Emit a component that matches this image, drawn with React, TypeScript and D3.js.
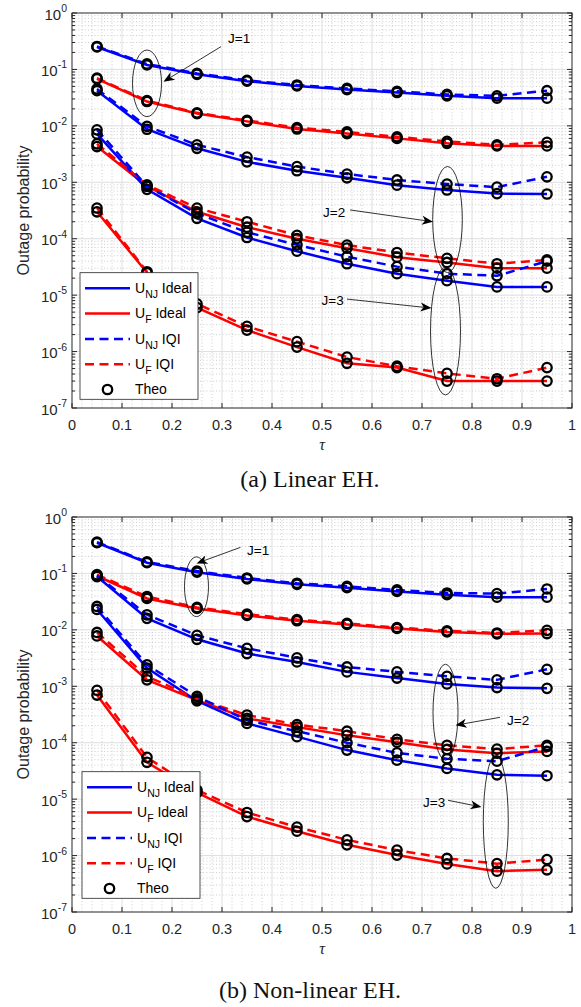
import React from "react";
import * as d3 from "d3";

// Time-switching ratio samples
const tau = [0.05, 0.15, 0.25, 0.35, 0.45, 0.55, 0.65, 0.75, 0.85, 0.95];

// (a) Linear EH
const linNJIdealJ1 = [0.25, 0.12, 0.082, 0.062, 0.051, 0.044, 0.039, 0.034, 0.031, 0.031];
const linNJIqiJ1 = [0.255, 0.125, 0.085, 0.064, 0.053, 0.046, 0.041, 0.036, 0.034, 0.042];
const linFIdealJ1 = [0.068, 0.027, 0.0165, 0.012, 0.0088, 0.0073, 0.006, 0.0049, 0.0044, 0.0044];
const linFIqiJ1 = [0.07, 0.028, 0.017, 0.0125, 0.0093, 0.0078, 0.0064, 0.0053, 0.0046, 0.0051];
const linNJIdealJ2 = [0.042, 0.0087, 0.004, 0.0023, 0.0016, 0.0012, 0.00089, 0.00073, 0.00063, 0.00062];
const linNJIqiJ2 = [0.045, 0.0098, 0.0046, 0.0028, 0.0019, 0.0014, 0.0011, 0.00093, 0.00082, 0.00125];
const linFIdealJ2 = [0.0043, 0.00085, 0.0003, 0.00016, 0.0001, 6.8e-5, 4.7e-5, 3.8e-5, 3.0e-5, 3.0e-5];
const linFIqiJ2 = [0.0048, 0.0009, 0.00035, 0.0002, 0.000115, 7.7e-5, 5.7e-5, 4.5e-5, 3.6e-5, 4.2e-5];
const linNJIdealJ3 = [0.0072, 0.00075, 0.00023, 0.000105, 6.0e-5, 3.6e-5, 2.4e-5, 1.8e-5, 1.4e-5, 1.4e-5];
const linNJIqiJ3 = [0.0085, 0.00085, 0.00028, 0.00013, 7.8e-5, 4.8e-5, 3.2e-5, 2.4e-5, 2.2e-5, 4.0e-5];
const linFIdealJ3 = [0.0003, 2.5e-5, 6.0e-6, 2.4e-6, 1.2e-6, 6.2e-7, 5.2e-7, 3.0e-7, 3.0e-7, 3.0e-7];
const linFIqiJ3 = [0.00035, 2.6e-5, 7.0e-6, 2.8e-6, 1.5e-6, 8.0e-7, 5.5e-7, 4.1e-7, 3.3e-7, 5.2e-7];

// (b) Non-linear EH
const nlNJIdealJ1 = [0.35, 0.155, 0.105, 0.08, 0.064, 0.056, 0.048, 0.042, 0.038, 0.038];
const nlNJIqiJ1 = [0.36, 0.16, 0.11, 0.083, 0.067, 0.059, 0.051, 0.045, 0.044, 0.053];
const nlFIdealJ1 = [0.09, 0.036, 0.024, 0.018, 0.0145, 0.0125, 0.0106, 0.0092, 0.0085, 0.0086];
const nlFIqiJ1 = [0.095, 0.039, 0.025, 0.019, 0.0152, 0.013, 0.011, 0.0096, 0.0088, 0.0098];
const nlNJIdealJ2 = [0.088, 0.016, 0.0068, 0.0038, 0.0027, 0.0018, 0.0014, 0.0011, 0.00095, 0.00092];
const nlNJIqiJ2 = [0.092, 0.0185, 0.008, 0.0047, 0.0032, 0.0022, 0.0018, 0.0015, 0.0013, 0.002];
const nlFIdealJ2 = [0.0078, 0.0013, 0.00057, 0.00027, 0.00019, 0.000135, 0.000102, 7.6e-5, 6.5e-5, 7.0e-5];
const nlFIqiJ2 = [0.009, 0.0015, 0.0006, 0.00031, 0.00021, 0.00016, 0.000115, 9.0e-5, 7.7e-5, 9.0e-5];
const nlNJIdealJ3 = [0.023, 0.0021, 0.00055, 0.00022, 0.000128, 7.4e-5, 4.9e-5, 3.5e-5, 2.7e-5, 2.6e-5];
const nlNJIqiJ3 = [0.026, 0.0024, 0.00066, 0.00025, 0.00016, 0.0001, 6.6e-5, 5.2e-5, 4.7e-5, 8.5e-5];
const nlFIdealJ3 = [0.0007, 4.5e-5, 1.3e-5, 4.9e-6, 2.7e-6, 1.55e-6, 1.02e-6, 7.1e-7, 5.3e-7, 5.6e-7];
const nlFIqiJ3 = [0.00085, 5.5e-5, 1.45e-5, 5.8e-6, 3.2e-6, 1.9e-6, 1.25e-6, 8.9e-7, 7.2e-7, 8.5e-7];

const xTicks = [0, 0.1, 0.2, 0.3, 0.4, 0.5, 0.6, 0.7, 0.8, 0.9, 1];
const xTickLabels = ["0", "0.1", "0.2", "0.3", "0.4", "0.5", "0.6", "0.7", "0.8", "0.9", "1"];
const yExponents = [0, -1, -2, -3, -4, -5, -6, -7];

const BLUE = "#0000ff";
const RED = "#ff0000";
const AXIS = "#262626";
const SANS = "'Liberation Sans', Arial, Helvetica, sans-serif";
const SERIF = "'Liberation Serif', 'Times New Roman', serif";

type Curve = { values: number[]; color: string; dashed: boolean };
type Note = {
  label: string;
  text: [number, number];
  from: [number, number];
  to: [number, number];
  ellipse: { c: [number, number]; rx: number; ry: number };
};

const curvesA: Curve[] = [
  { values: linNJIdealJ1, color: BLUE, dashed: false },
  { values: linFIdealJ1, color: RED, dashed: false },
  { values: linNJIdealJ2, color: BLUE, dashed: false },
  { values: linFIdealJ2, color: RED, dashed: false },
  { values: linNJIdealJ3, color: BLUE, dashed: false },
  { values: linFIdealJ3, color: RED, dashed: false },
  { values: linNJIqiJ1, color: BLUE, dashed: true },
  { values: linFIqiJ1, color: RED, dashed: true },
  { values: linNJIqiJ2, color: BLUE, dashed: true },
  { values: linFIqiJ2, color: RED, dashed: true },
  { values: linNJIqiJ3, color: BLUE, dashed: true },
  { values: linFIqiJ3, color: RED, dashed: true },
];

const curvesB: Curve[] = [
  { values: nlNJIdealJ1, color: BLUE, dashed: false },
  { values: nlFIdealJ1, color: RED, dashed: false },
  { values: nlNJIdealJ2, color: BLUE, dashed: false },
  { values: nlFIdealJ2, color: RED, dashed: false },
  { values: nlNJIdealJ3, color: BLUE, dashed: false },
  { values: nlFIdealJ3, color: RED, dashed: false },
  { values: nlNJIqiJ1, color: BLUE, dashed: true },
  { values: nlFIqiJ1, color: RED, dashed: true },
  { values: nlNJIqiJ2, color: BLUE, dashed: true },
  { values: nlFIqiJ2, color: RED, dashed: true },
  { values: nlNJIqiJ3, color: BLUE, dashed: true },
  { values: nlFIqiJ3, color: RED, dashed: true },
];

// Annotation positions in data units: [tau, log10(probability)]
const notesA: Note[] = [
  { label: "J=1", text: [0.312, -0.53], from: [0.298, -0.596], to: [0.183, -1.217], ellipse: { c: [0.15, -1.246], rx: 0.029, ry: 0.59 } },
  { label: "J=2", text: [0.502, -3.62], from: [0.556, -3.49], to: [0.722, -3.70], ellipse: { c: [0.751, -3.66], rx: 0.0296, ry: 0.94 } },
  { label: "J=3", text: [0.499, -5.17], from: [0.55, -5.07], to: [0.719, -5.23], ellipse: { c: [0.747, -5.635], rx: 0.03, ry: 1.134 } },
];

const notesB: Note[] = [
  { label: "J=1", text: [0.35, -0.673], from: [0.337, -0.538], to: [0.249, -0.822], ellipse: { c: [0.249, -1.236], rx: 0.024, ry: 0.53 } },
  { label: "J=2", text: [0.87, -3.69], from: [0.856, -3.55], to: [0.767, -3.69], ellipse: { c: [0.747, -3.46], rx: 0.025, ry: 0.85 } },
  { label: "J=3", text: [0.702, -5.14], from: [0.752, -5.02], to: [0.819, -5.14], ellipse: { c: [0.8476, -5.4], rx: 0.025, ry: 1.18 } },
];

const legendItems = [
  { sub: "NJ", tail: " Ideal", color: BLUE, dashed: false, marker: false },
  { sub: "F", tail: " Ideal", color: RED, dashed: false, marker: false },
  { sub: "NJ", tail: " IQI", color: BLUE, dashed: true, marker: false },
  { sub: "F", tail: " IQI", color: RED, dashed: true, marker: false },
  { sub: "", tail: "Theo", color: "#000", dashed: false, marker: true },
];

const X0 = 72;
const X1 = 572;
const PH = 395;
const MARK_R = 4.7;
const MARK_W = 2.3;

function Panel(props: {
  top: number;
  curves: Curve[];
  notes: Note[];
  legend: [number, number];
  caption: string;
  captionY: number;
  id: string;
}) {
  const { top, curves, notes, legend, caption, captionY, id } = props;
  const bottom = top + PH;
  const x = d3.scaleLinear().domain([0, 1]).range([X0, X1]);
  const y = d3.scaleLog().domain([1e-7, 1]).range([bottom, top]);
  const ly = (e: number) => y(Math.pow(10, e));

  const minorX = d3.range(1, 50).map((i) => i * 0.02).filter((v) => Math.abs(v * 10 - Math.round(v * 10)) > 1e-6);
  const minorY: number[] = [];
  for (let e = -7; e < 0; e++) for (let k = 2; k <= 9; k++) minorY.push(k * Math.pow(10, e));

  const line = d3
    .line<number>()
    .x((_, i) => x(tau[i]))
    .y((v) => y(v));

  const arrowHead = (from: [number, number], to: [number, number]) => {
    const fx = x(from[0]), fy = ly(from[1]);
    const tx = x(to[0]), ty = ly(to[1]);
    const ang = Math.atan2(ty - fy, tx - fx);
    const L = 11, W = 4.5, N = 3;
    const ux = Math.cos(ang), uy = Math.sin(ang);
    const px = -uy, py = ux;
    const bx = tx - ux * L, by = ty - uy * L;
    const nx = tx - ux * (L - N), ny = ty - uy * (L - N);
    return {
      line: [fx, fy, nx, ny],
      pts: `${tx},${ty} ${bx + px * W},${by + py * W} ${nx},${ny} ${bx - px * W},${by - py * W}`,
    };
  };

  const [lx, lyTop] = legend;
  const rowGap = 25.3;

  return (
    <g>
      <defs>
        <clipPath id={`clip-${id}`}>
          <rect x={X0 - 6} y={top} width={X1 - X0 + 12} height={PH} />
        </clipPath>
      </defs>
      <rect x={X0} y={top} width={X1 - X0} height={PH} fill="#fff" />
      {/* minor grid */}
      <g stroke="#b8b8b8" strokeWidth={0.7} strokeDasharray="1,2.2">
        {minorX.map((v) => (
          <line key={`mx${v}`} x1={x(v)} x2={x(v)} y1={top} y2={bottom} />
        ))}
        {minorY.map((v) => (
          <line key={`my${v}`} x1={X0} x2={X1} y1={y(v)} y2={y(v)} />
        ))}
      </g>
      {/* major grid */}
      <g stroke="#dedede" strokeWidth={1}>
        {xTicks.slice(1, -1).map((v) => (
          <line key={`gx${v}`} x1={x(v)} x2={x(v)} y1={top} y2={bottom} />
        ))}
        {yExponents.slice(1, -1).map((e) => (
          <line key={`gy${e}`} x1={X0} x2={X1} y1={ly(e)} y2={ly(e)} />
        ))}
      </g>
      {/* curves */}
      <g clipPath={`url(#clip-${id})`} fill="none">
        {curves.map((c, i) => (
          <path
            key={`c${i}`}
            d={line(c.values) || ""}
            stroke={c.color}
            strokeWidth={2.5}
            strokeDasharray={c.dashed ? "9,5.5" : undefined}
          />
        ))}
        {curves.map((c, i) =>
          c.values.map((v, j) => (
            <circle key={`m${i}-${j}`} cx={x(tau[j])} cy={y(v)} r={MARK_R} stroke="#000" strokeWidth={MARK_W} fill="none" />
          ))
        )}
      </g>
      {/* axes box and ticks */}
      <rect x={X0} y={top} width={X1 - X0} height={PH} fill="none" stroke={AXIS} strokeWidth={1} />
      <g stroke={AXIS} strokeWidth={1}>
        {xTicks.map((v) => (
          <g key={`tx${v}`}>
            <line x1={x(v)} x2={x(v)} y1={bottom} y2={bottom - 5} />
            <line x1={x(v)} x2={x(v)} y1={top} y2={top + 5} />
          </g>
        ))}
        {yExponents.map((e) => (
          <g key={`ty${e}`}>
            <line x1={X0} x2={X0 + 5} y1={ly(e)} y2={ly(e)} />
            <line x1={X1} x2={X1 - 5} y1={ly(e)} y2={ly(e)} />
          </g>
        ))}
        {minorY.map((v) => (
          <g key={`tm${v}`}>
            <line x1={X0} x2={X0 + 3} y1={y(v)} y2={y(v)} />
            <line x1={X1} x2={X1 - 3} y1={y(v)} y2={y(v)} />
          </g>
        ))}
      </g>
      {/* tick labels */}
      <g fontFamily={SANS} fill={AXIS} fontSize={14.5}>
        {xTicks.map((v, i) => (
          <text key={`lx${v}`} x={x(v)} y={bottom + 22} textAnchor="middle">
            {xTickLabels[i]}
          </text>
        ))}
        {yExponents.map((e) => (
          <text key={`ly${e}`} x={67} y={ly(e) + 6.5} textAnchor="end" fontSize={15}>
            10
            <tspan fontSize={10.5} dy={-7.5}>
              {e === 0 ? "0" : `-${-e}`}
            </tspan>
          </text>
        ))}
      </g>
      {/* axis labels */}
      <text
        transform={`translate(29,${(top + bottom) / 2}) rotate(-90)`}
        textAnchor="middle"
        fontFamily={SANS}
        fontSize={16}
        fill={AXIS}
      >
        Outage probability
      </text>
      <text x={(X0 + X1) / 2} y={bottom + 42} textAnchor="middle" fontFamily={SERIF} fontStyle="italic" fontSize={16} fill={AXIS}>
        τ
      </text>
      {/* annotations */}
      <g fontFamily={SANS} fontSize={13.5} fill="#000">
        {notes.map((n) => {
          const a = arrowHead(n.from, n.to);
          return (
            <g key={n.label}>
              <ellipse
                cx={x(n.ellipse.c[0])}
                cy={ly(n.ellipse.c[1])}
                rx={x(n.ellipse.rx) - x(0)}
                ry={ly(-n.ellipse.ry) - ly(0)}
                fill="none"
                stroke="#000"
                strokeWidth={0.8}
              />
              <line x1={a.line[0]} y1={a.line[1]} x2={a.line[2]} y2={a.line[3]} stroke="#000" strokeWidth={0.8} />
              <polygon points={a.pts} fill="#000" />
              <text x={x(n.text[0])} y={ly(n.text[1])}>
                {n.label}
              </text>
            </g>
          );
        })}
      </g>
      {/* legend */}
      <g>
        <rect x={lx} y={lyTop} width={118} height={126.6} fill="#fff" stroke={AXIS} strokeWidth={0.8} />
        {legendItems.map((it, i) => {
          const ry = lyTop + 15.6 + i * rowGap;
          return (
            <g key={`lg${i}`}>
              {it.marker ? (
                <circle cx={lx + 27.5} cy={ry} r={MARK_R} stroke="#000" strokeWidth={MARK_W} fill="none" />
              ) : (
                <line
                  x1={lx + 5}
                  x2={lx + 50}
                  y1={ry}
                  y2={ry}
                  stroke={it.color}
                  strokeWidth={2.5}
                  strokeDasharray={it.dashed ? "9,5.5" : undefined}
                />
              )}
              <text x={lx + 55} y={ry + 4.8} fontFamily={SANS} fontSize={14} fill="#000">
                {it.marker ? (
                  it.tail
                ) : (
                  <>
                    U
                    <tspan fontSize={10.5} dy={5}>
                      {it.sub}
                    </tspan>
                    <tspan dy={-5}>{it.tail}</tspan>
                  </>
                )}
              </text>
            </g>
          );
        })}
      </g>
      <text x={310} y={captionY} textAnchor="middle" fontFamily={SERIF} fontSize={24} fill="#111">
        {caption}
      </text>
    </g>
  );
}

export default function App() {
  return (
    <svg
      width={581}
      height={1007}
      viewBox="0 0 581 1007"
      style={{ position: "absolute", left: 0, top: 0, background: "#fff" }}
    >
      <rect width={581} height={1007} fill="#fff" />
      <Panel id="a" top={13} curves={curvesA} notes={notesA} legend={[80, 272.7]} caption="(a) Linear EH." captionY={487} />
      <Panel id="b" top={517} curves={curvesB} notes={notesB} legend={[82, 771.7]} caption="(b) Non-linear EH." captionY={998} />
    </svg>
  );
}
